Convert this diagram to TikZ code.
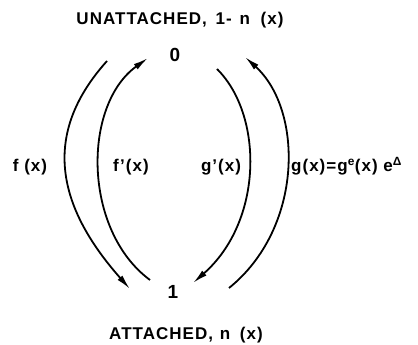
\documentclass[tikz,border=0pt]{standalone}
\usepackage{fontspec}
\setmainfont{Liberation Sans}[LetterSpace=6]
\usetikzlibrary{arrows.meta}
\tikzset{
  lbl/.style={font=\bfseries\fontsize{17}{20}\selectfont, inner sep=0pt, anchor=base},
  state/.style={font=\bfseries\fontsize{19}{22}\selectfont, inner sep=0pt, anchor=base},
  arc/.style={line width=1.8pt, -{Latex[length=15pt,width=6.5pt]}}
}
\begin{document}
\begin{tikzpicture}[x=1pt,y=1pt]
\useasboundingbox (0,0) rectangle (418,345);
% titles
\node[lbl] (top) at (180,320) {UNATTACHED,\hspace{3pt} 1-\hspace{2pt} n\hspace{5pt} (x)};
\node[lbl] (bot) at (186,5) {ATTACHED,\hspace{1pt} n\hspace{4pt} (x)};
% states
\node[state] (s0) at (175,283) {0};
\node[state] (s1) at (173,46) {1};
% arc end points
\coordinate (fA) at (107,284);
\coordinate (fB) at (130,56);
\coordinate (fpA) at (150,65);
\coordinate (fpB) at (148,287);
\coordinate (gpA) at (217,276);
\coordinate (gpB) at (193,62);
\coordinate (gA) at (229,57);
\coordinate (gB) at (245,288);
% arcs
\draw[arc] (fA) .. controls (45,215) and (52,144) .. (fB);
\draw[arc] (fpA) .. controls (82.5,115) and (82.5,240) .. (fpB);
\draw[arc] (gpA) .. controls (263.5,230) and (263.5,124) .. (gpB);
\draw[arc] (gA) .. controls (303.5,117) and (303.5,235) .. (gB);
% labels
\node[lbl] (lf) at (30,173) {f (x)};
\node[lbl] (lfp) at (131,173) {f'(x)};
\node[lbl] (lgp) at (221,173) {g'(x)};
\node[lbl, anchor=base west] (lg) at (291,173) {g(x)=g\textsuperscript{e}(x) e\textsuperscript{Δ}};
\end{tikzpicture}
\end{document}
